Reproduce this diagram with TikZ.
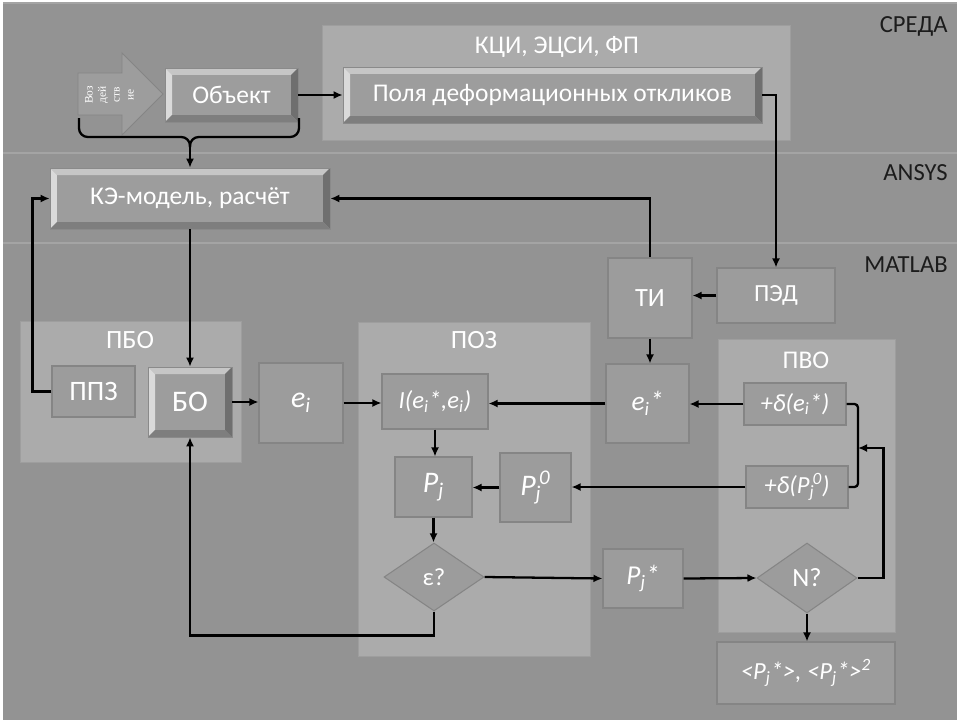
\documentclass[tikz,border=0pt]{standalone}
\usepackage{fontspec}
\setmainfont{Carlito}
\newfontfamily\arrowfont{Liberation Serif}
\usetikzlibrary{arrows.meta,shapes.geometric}

\definecolor{bandgray}{HTML}{939393}
\definecolor{sepgray}{HTML}{A4A4A4}
\definecolor{panelgray}{HTML}{ABABAB}
\definecolor{paneledge}{HTML}{9E9E9E}
\definecolor{blkgray}{HTML}{9C9C9C}
\definecolor{blkedge}{HTML}{858585}
\definecolor{btnface}{HTML}{9D9D9D}
\definecolor{btnedge}{HTML}{8A8A8A}
\definecolor{btntop}{HTML}{C6C6C6}
\definecolor{btnleft}{HTML}{DADADA}
\definecolor{btnright}{HTML}{6F6F6F}
\definecolor{btnbottom}{HTML}{7E7E7E}
\definecolor{layertext}{HTML}{1C1C1C}

\newcommand\subsup[2]{\textsubscript{#1}\kern-0.08em\textsuperscript{#2}}

\begin{document}
\begin{tikzpicture}[x=0.02cm,y=-0.02cm]%
  \tikzset{%
    sz/.style 2 args={minimum width=#1*0.02cm,minimum height=#2*0.02cm},
    fs/.style={font=\fontsize{#1}{#1}\selectfont},
    fsi/.style={font=\fontsize{#1}{#1}\selectfont\itshape},
    panel/.style={fill=panelgray,draw=paneledge,line width=0.5pt},
    blk/.style={draw=blkedge,fill=blkgray,line width=0.6pt,text=white,inner sep=0pt,fs=14},
    mth/.style={blk,fsi=14},
    dmd/.style={blk,shape=diamond},
    btn/.style={draw=btnedge,fill=btnface,line width=0.4pt,text=white,inner sep=0pt,fs=14.5,
      path picture={%
        \fill[btntop] (path picture bounding box.north west) -- (path picture bounding box.north east)
          -- ([shift={(-0.14cm,-0.14cm)}]path picture bounding box.north east)
          -- ([shift={(0.14cm,-0.14cm)}]path picture bounding box.north west) -- cycle;
        \fill[btnleft] (path picture bounding box.north west) -- (path picture bounding box.south west)
          -- ([shift={(0.14cm,0.14cm)}]path picture bounding box.south west)
          -- ([shift={(0.14cm,-0.14cm)}]path picture bounding box.north west) -- cycle;
        \fill[btnright] (path picture bounding box.north east) -- (path picture bounding box.south east)
          -- ([shift={(-0.14cm,0.14cm)}]path picture bounding box.south east)
          -- ([shift={(-0.14cm,-0.14cm)}]path picture bounding box.north east) -- cycle;
        \fill[btnbottom] (path picture bounding box.south west) -- (path picture bounding box.south east)
          -- ([shift={(-0.14cm,0.14cm)}]path picture bounding box.south east)
          -- ([shift={(0.14cm,0.14cm)}]path picture bounding box.south west) -- cycle;
      }},
    layer/.style={anchor=base east,text=layertext,inner sep=0pt,fs=14},
    ttl/.style={anchor=base,text=white,inner sep=0pt,fs=14.5},
    tiny/.style={rotate=90,text=white,inner sep=0pt,font=\arrowfont\fontsize{6.5}{7}\selectfont},
    link/.style={draw=black,line width=1.3pt,-{Latex[length=1.8mm,width=1.6mm]}},
    wire/.style={draw=black,line width=1.3pt},
  }%
  \useasboundingbox (0,0) rectangle (957,720);
  % layers
  \fill[bandgray] (3,3) rectangle (957,720);
  \draw[sepgray,line width=0.8pt] (3,3) -- (957,3);
  \draw[sepgray,line width=0.8pt] (3,153) -- (957,153);
  \draw[sepgray,line width=0.8pt] (3,243) -- (957,243);
  \node[layer] (lsreda) at (948,32) {СРЕДА};
  \node[layer] (lansys) at (948,180) {ANSYS};
  \node[layer] (lmatlab) at (948,272) {MATLAB};

  % panels
  \draw[panel] (322,25) rectangle (790,140);
  \draw[panel] (20,321) rectangle (241,462);
  \draw[panel] (358,322) rectangle (590,656);
  \draw[panel] (718,339) rectangle (895,632);
  \node[ttl] (tkci) at (557,53) {КЦИ, ЭЦСИ, ФП};
  \node[ttl,fs=15] (tpbo) at (130,348) {ПБО};
  \node[ttl,fs=15] (tpoz) at (474,348) {ПОЗ};
  \node[ttl] (tpvo) at (806,368) {ПВО};

  % input arrow
  \draw[fill=btnface,draw=blkedge,line width=0.5pt] (78,73) -- (122,73) -- (122,53) -- (163,94)
    -- (122,135) -- (122,115) -- (78,115) -- cycle;
  \node[tiny] (act1) at (89,95) {Воз};
  \node[tiny] (act2) at (103,95) {дей};
  \node[tiny] (act3) at (117,95) {ств};
  \node[tiny] (act4) at (131,95) {ие};

  % buttons
  \node[btn,sz={133}{54}] (obj) at (231.5,95) {Объект};
  \node[btn,sz={419}{56}] (field) at (552.5,95) {Поля деформационных откликов};
  \node[btn,sz={280}{61}] (fem) at (190,198.5) {КЭ-модель, расчёт};
  \node[btn,sz={84}{70},fs=17] (bo) at (190,402) {БО};

  % blocks
  \node[blk,sz={83}{51},fs=16] (ppz) at (93.5,391.5) {ППЗ};
  \node[mth,sz={84}{80},fsi=17] (ei) at (301,403) {e\textsubscript{i}};
  \node[mth,sz={106}{55}] (ixx) at (435,401.5) {I(e\textsubscript{i}*,e\textsubscript{i})};
  \node[mth,sz={77}{60},fsi=17] (pj) at (433.5,487) {P\textsubscript{j}};
  \node[mth,sz={71}{69},fsi=17] (pj0) at (535.5,487.5) {P\subsup{j}{0}};
  \node[dmd,sz={100}{68}] (eps) at (434,577) {ε?};
  \node[mth,sz={80}{59},fsi=15.5] (pjs) at (643,578.5) {P\textsubscript{j}*};
  \node[blk,sz={84}{80},fs=15] (ti) at (650,298) {ТИ};
  \node[blk,sz={118}{55}] (ped) at (776,295.5) {ПЭД};
  \node[mth,sz={83}{79},fsi=15.5] (eis) at (647.5,403.5) {e\textsubscript{i}*};
  \node[mth,sz={102}{42}] (dei) at (795,404) {+δ(e\textsubscript{i}*)};
  \node[mth,sz={102}{42}] (dpj) at (797,487) {+δ(P\subsup{j}{0})};
  \node[dmd,sz={100}{70},fs=15] (nq) at (807,578) {N?};
  \node[mth,sz={178}{62}] (mean) at (806,673) {<P\textsubscript{j}*>, <P\textsubscript{j}*>\textsuperscript{2}};

  % brace under the input
  \coordinate (brtip) at (190,147);
  \draw[wire,rounded corners=5] (79,118) -- (79,137) -- (190,137) -- (brtip);
  \draw[wire,rounded corners=5] (299,118) -- (299,137) -- (190,137) -- (brtip);
  \coordinate (jn) at (858,448);

  % connectors
  \draw[link] (brtip) -- (fem.north);
  \draw[link] (obj) -- (field);
  \draw[link] (field.east) -| (ped.north);
  \draw[link] (ped.west) -- (ped.west -| ti.east);
  \draw[link] (ti.north) |- (fem.east);
  \draw[link] (ti.south) -- (ti.south |- eis.north);
  \draw[link] (fem.south) -- (bo.north);
  \draw[link] (ppz.west) -- ++(-19,0) |- (fem.west);
  \draw[link] (bo.east) -- (bo.east -| ei.west);
  \draw[link] (ei.east) -- (ei.east -| ixx.west);
  \draw[link] (eis.west) -- (eis.west -| ixx.east);
  \draw[link] (dei.west) -- (dei.west -| eis.east);
  \draw[link] (ixx.south) -- (ixx.south |- pj.north);
  \draw[link] (dpj.west) -- (dpj.west -| pj0.east);
  \draw[link] (pj0.west) -- (pj0.west -| pj.east);
  \draw[link] (pj.south) -- (pj.south |- eps.north);
  \draw[link] (eps.east) -- (pjs.west);
  \draw[link] (pjs.east) -- (nq.west);
  \draw[link] (nq.south) -- (nq.south |- mean.north);
  \draw[link] (eps.south) -- ++(0,24) -| (bo.south);
  \draw[wire,rounded corners=2] (dei.east) -- (dei.east -| jn) -- (jn);
  \draw[wire,rounded corners=2] (dpj.east) -- (dpj.east -| jn) -- (jn);
  \draw[link] (nq.east) -- ++(26,0) |- (jn);
\end{tikzpicture}
\end{document}
